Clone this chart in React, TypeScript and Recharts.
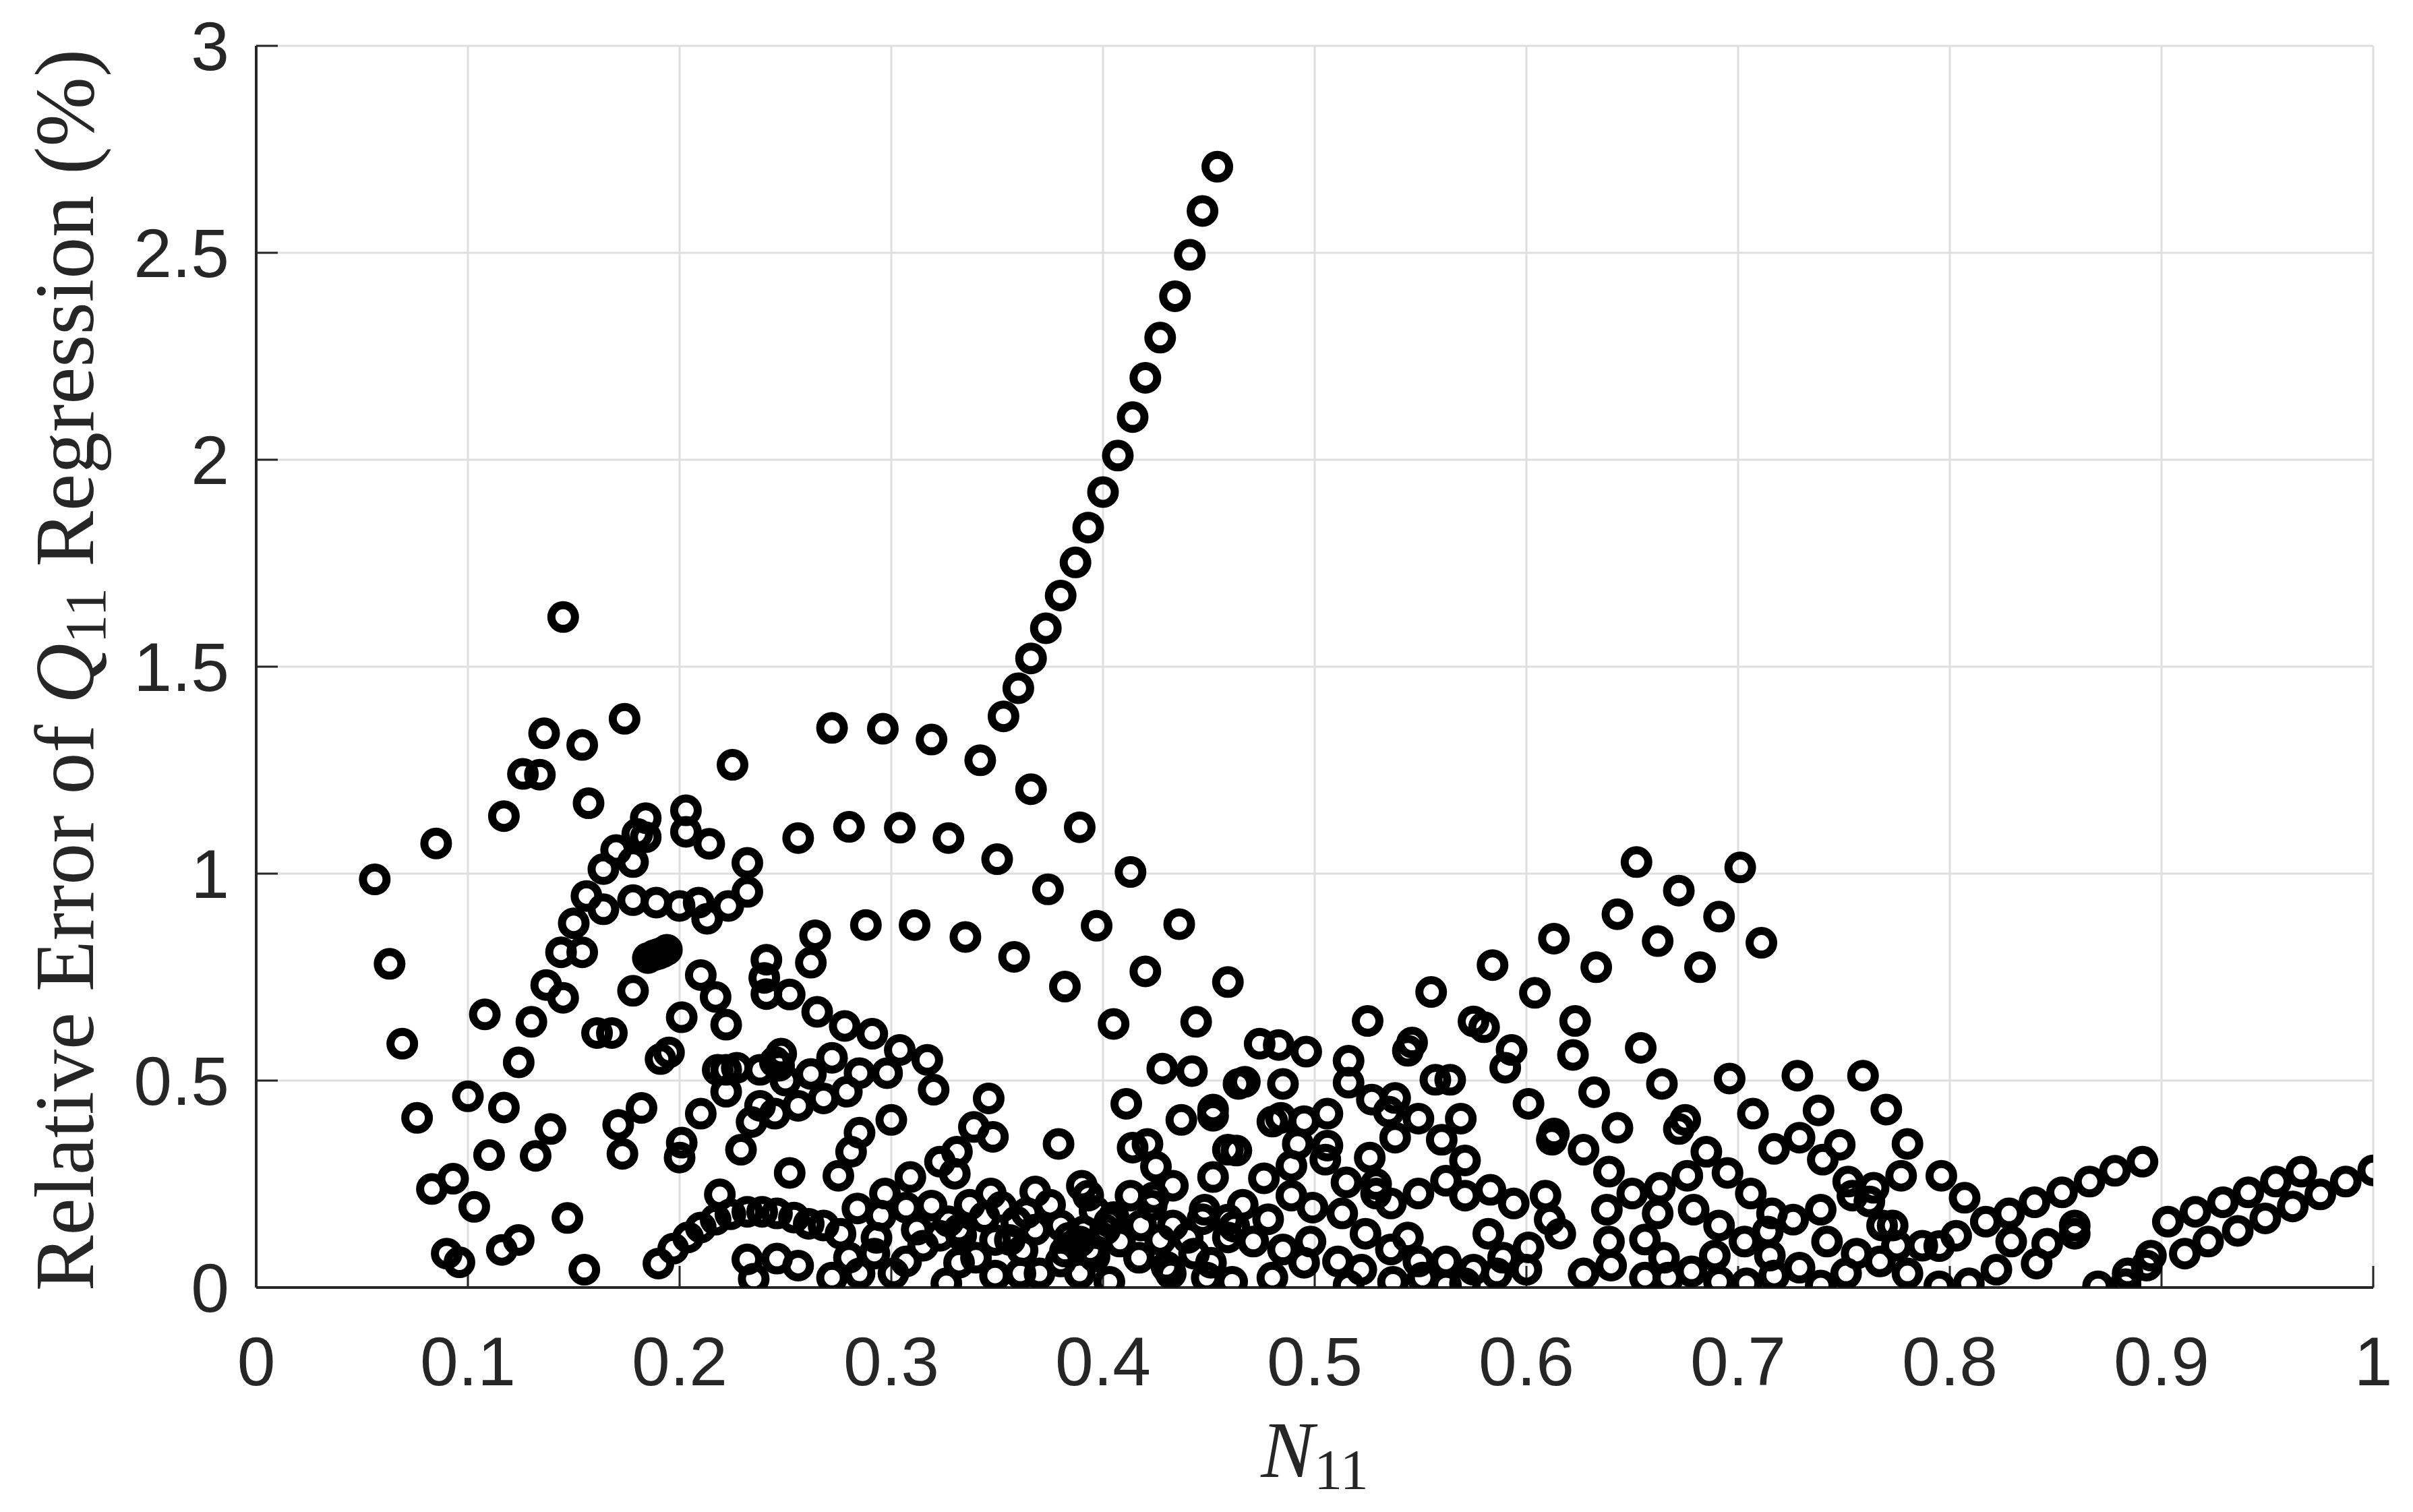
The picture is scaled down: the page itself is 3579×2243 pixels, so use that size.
import React from 'react'
import { ScatterChart, Scatter, XAxis, YAxis, CartesianGrid } from 'recharts'

// axis ticks
const xTicks = [0, 0.1, 0.2, 0.3, 0.4, 0.5, 0.6, 0.7, 0.8, 0.9, 1]
const yTicks = [0, 0.5, 1, 1.5, 2, 2.5, 3]

// [N11, relative error %], grouped by N11 range
const leftCloud: [number, number][] = [
  [0.056, 0.986], [0.063, 0.782], [0.069, 0.589], [0.076, 0.41], [0.083, 0.238], [0.09, 0.082],
  [0.085, 1.073], [0.093, 0.263], [0.096, 0.061], [0.1, 0.462], [0.103, 0.195], [0.108, 0.66],
  [0.11, 0.32], [0.117, 0.435], [0.116, 0.091], [0.117, 1.139], [0.124, 0.115], [0.124, 0.544],
  [0.126, 1.241], [0.132, 0.318], [0.13, 0.642], [0.134, 1.239], [0.136, 1.339], [0.137, 0.731],
  [0.139, 0.383], [0.144, 0.81], [0.145, 0.7], [0.145, 1.62], [0.147, 0.168], [0.15, 0.88],
  [0.154, 1.311], [0.154, 0.81], [0.155, 0.043], [0.156, 0.946], [0.157, 1.17],
]

const midLeftCloud: [number, number][] = [
  [0.161, 0.615], [0.168, 0.615], [0.164, 1.011], [0.164, 0.914], [0.17, 1.057], [0.171, 0.393],
  [0.173, 0.323], [0.174, 1.374], [0.178, 1.028], [0.178, 0.936], [0.178, 0.717], [0.18, 1.096],
  [0.184, 1.088], [0.182, 0.434], [0.184, 1.134], [0.185, 0.796], [0.189, 0.93], [0.19, 0.806],
  [0.194, 0.816], [0.188, 0.803], [0.192, 0.81], [0.191, 0.552], [0.195, 0.568], [0.19, 0.058],
  [0.197, 0.094], [0.2, 0.922],
  [0.201, 0.653], [0.2, 0.314], [0.201, 0.35], [0.203, 1.153], [0.203, 1.101], [0.204, 0.121],
  [0.209, 0.93], [0.21, 0.755], [0.21, 0.42], [0.21, 0.145], [0.213, 0.891], [0.214, 1.072],
  [0.217, 0.702], [0.218, 0.526], [0.217, 0.164], [0.219, 0.225], [0.222, 0.635], [0.222, 0.526],
  [0.222, 0.473], [0.223, 0.922], [0.224, 0.177], [0.225, 1.263], [0.227, 0.531], [0.229, 0.333],
  [0.232, 1.026], [0.232, 0.956], [0.232, 0.183], [0.232, 0.068], [0.234, 0.4], [0.235, 0.021],
  [0.238, 0.526], [0.238, 0.439], [0.239, 0.183], [0.24, 0.748], [0.241, 0.792], [0.241, 0.709],
  [0.245, 0.42], [0.246, 0.179], [0.246, 0.07], [0.245, 0.545], [0.247, 0.536], [0.248, 0.565],
  [0.25, 0.5], [0.252, 0.708], [0.252, 0.277], [0.254, 0.169], [0.256, 1.086], [0.256, 0.439],
  [0.256, 0.053], [0.262, 0.785], [0.261, 0.154], [0.262, 0.516], [0.264, 0.851], [0.265, 0.666],
  [0.268, 0.457], [0.268, 0.15], [0.272, 1.352], [0.272, 0.555], [0.272, 0.024], [0.275, 0.27],
  [0.276, 0.13], [0.278, 0.632], [0.279, 0.473], [0.28, 1.113], [0.28, 0.072], [0.281, 0.328],
  [0.284, 0.191], [0.285, 0.374], [0.285, 0.518], [0.285, 0.034], [0.288, 0.876], [0.291, 0.613],
  [0.292, 0.082], [0.293, 0.12], [0.296, 1.35], [0.295, 0.174], [0.297, 0.227], [0.298, 0.518],
  [0.3, 0.405], [0.301, 0.034], [0.304, 1.111], [0.304, 0.574], [0.307, 0.063], [0.309, 0.267],
  [0.311, 0.876],
]

const risingBranch: [number, number][] = [
  [0.353, 1.38], [0.36, 1.448], [0.366, 1.52], [0.373, 1.593], [0.38, 1.672], [0.387, 1.752],
  [0.393, 1.836], [0.4, 1.922], [0.407, 2.01], [0.414, 2.103], [0.42, 2.198], [0.427, 2.295],
  [0.434, 2.395], [0.441, 2.495], [0.447, 2.601], [0.454, 2.708],
]

const midCloud: [number, number][] = [
  [0.319, 1.324], [0.342, 1.274], [0.366, 1.204], [0.389, 1.112], [0.327, 1.086], [0.35, 1.035],
  [0.374, 0.962], [0.413, 1.004], [0.397, 0.874], [0.436, 0.878], [0.335, 0.847], [0.358, 0.799],
  [0.382, 0.727], [0.42, 0.764], [0.459, 0.738], [0.405, 0.637], [0.444, 0.642], [0.317, 0.55],
  [0.32, 0.478], [0.346, 0.457], [0.428, 0.529], [0.442, 0.523], [0.464, 0.492], [0.411, 0.444],
  [0.437, 0.405], [0.452, 0.43], [0.452, 0.415], [0.339, 0.388], [0.348, 0.364], [0.379, 0.347],
  [0.414, 0.338], [0.421, 0.347], [0.425, 0.292], [0.459, 0.333], [0.452, 0.267], [0.331, 0.328],
  [0.323, 0.304], [0.33, 0.275], [0.347, 0.227], [0.368, 0.232], [0.39, 0.246], [0.393, 0.222],
  [0.413, 0.222], [0.423, 0.198], [0.433, 0.246], [0.448, 0.188], [0.459, 0.164], [0.433, 0.15],
  [0.459, 0.121], [0.307, 0.193], [0.319, 0.198], [0.312, 0.14], [0.323, 0.125], [0.332, 0.14],
  [0.359, 0.159], [0.368, 0.14], [0.38, 0.15], [0.389, 0.111], [0.401, 0.14], [0.408, 0.111],
  [0.315, 0.101], [0.34, 0.072], [0.349, 0.029], [0.361, 0.034], [0.37, 0.034], [0.326, 0.01],
  [0.38, 0.063], [0.389, 0.034], [0.403, 0.014], [0.417, 0.072], [0.432, 0.034], [0.443, 0.082],
  [0.449, 0.024], [0.461, 0.014], [0.327, 0.16], [0.337, 0.2], [0.344, 0.17], [0.352, 0.195],
  [0.356, 0.115], [0.364, 0.18], [0.375, 0.2], [0.384, 0.12], [0.396, 0.185], [0.405, 0.17],
  [0.418, 0.15], [0.427, 0.115], [0.44, 0.12], [0.451, 0.06], [0.396, 0.075], [0.362, 0.09],
  [0.332, 0.06], [0.447, 0.165], [0.43, 0.05], [0.382, 0.087], [0.394, 0.09], [0.333, 0.126],
  [0.349, 0.115], [0.391, 0.136], [0.403, 0.158], [0.424, 0.218],
]

const centreCloud: [number, number][] = [
  [0.525, 0.644], [0.555, 0.714], [0.584, 0.779], [0.613, 0.843], [0.604, 0.712], [0.575, 0.643],
  [0.58, 0.629], [0.546, 0.592], [0.544, 0.572], [0.593, 0.574], [0.59, 0.531], [0.474, 0.589],
  [0.483, 0.586], [0.496, 0.57], [0.516, 0.548], [0.467, 0.497], [0.485, 0.492], [0.516, 0.495],
  [0.557, 0.502], [0.564, 0.502], [0.601, 0.444], [0.527, 0.454], [0.538, 0.458], [0.535, 0.425],
  [0.549, 0.408], [0.569, 0.408], [0.613, 0.372], [0.612, 0.357], [0.48, 0.401], [0.484, 0.41],
  [0.495, 0.402], [0.506, 0.42], [0.492, 0.347], [0.506, 0.343], [0.505, 0.309], [0.538, 0.362],
  [0.56, 0.357], [0.526, 0.314], [0.489, 0.294], [0.476, 0.264], [0.571, 0.307], [0.515, 0.254],
  [0.562, 0.258], [0.571, 0.222], [0.583, 0.236], [0.489, 0.222], [0.499, 0.193], [0.513, 0.179],
  [0.529, 0.227], [0.536, 0.203], [0.549, 0.227], [0.594, 0.203], [0.609, 0.222], [0.611, 0.164],
  [0.471, 0.111], [0.485, 0.092], [0.498, 0.111], [0.524, 0.13], [0.544, 0.121], [0.582, 0.13],
  [0.601, 0.097], [0.616, 0.13], [0.511, 0.063], [0.522, 0.043], [0.536, 0.092], [0.549, 0.063],
  [0.562, 0.063], [0.575, 0.043], [0.589, 0.072], [0.6, 0.043], [0.48, 0.024], [0.516, 0.005],
  [0.537, 0.014], [0.551, 0.024], [0.562, 0.005], [0.571, 0.01], [0.586, 0.034], [0.466, 0.2],
  [0.478, 0.165], [0.495, 0.06], [0.463, 0.331], [0.462, 0.147], [0.529, 0.25],
]

const rightCloud: [number, number][] = [
  [0.652, 1.028], [0.701, 1.015], [0.672, 0.959], [0.643, 0.902], [0.691, 0.896], [0.662, 0.837],
  [0.711, 0.833], [0.633, 0.774], [0.682, 0.774], [0.623, 0.644], [0.622, 0.562], [0.654, 0.579],
  [0.696, 0.505], [0.728, 0.512], [0.759, 0.512], [0.632, 0.472], [0.664, 0.492], [0.675, 0.405],
  [0.672, 0.383], [0.707, 0.42], [0.738, 0.428], [0.77, 0.43], [0.643, 0.386], [0.627, 0.333],
  [0.685, 0.328], [0.717, 0.335], [0.729, 0.362], [0.748, 0.345], [0.74, 0.309], [0.639, 0.28],
  [0.663, 0.241], [0.676, 0.27], [0.695, 0.277], [0.706, 0.227], [0.752, 0.256], [0.764, 0.241],
  [0.65, 0.227], [0.638, 0.188], [0.662, 0.179], [0.679, 0.188], [0.691, 0.15], [0.716, 0.179],
  [0.726, 0.164], [0.739, 0.188], [0.754, 0.222], [0.762, 0.208], [0.703, 0.111], [0.714, 0.135],
  [0.742, 0.111], [0.756, 0.082], [0.768, 0.15], [0.639, 0.111], [0.656, 0.116], [0.627, 0.034],
  [0.64, 0.053], [0.656, 0.024], [0.665, 0.072], [0.667, 0.024], [0.678, 0.039], [0.689, 0.077],
  [0.691, 0.014], [0.704, 0.01], [0.715, 0.077], [0.717, 0.029], [0.729, 0.048], [0.739, 0.005],
  [0.751, 0.034], [0.767, 0.063],
]

const tailCloud: [number, number][] = [
  [0.78, 0.347], [0.777, 0.27], [0.796, 0.27], [0.807, 0.217], [0.773, 0.15], [0.775, 0.101],
  [0.787, 0.101], [0.795, 0.1], [0.803, 0.125], [0.817, 0.159], [0.828, 0.179], [0.84, 0.206],
  [0.853, 0.23], [0.866, 0.256], [0.878, 0.282], [0.891, 0.304], [0.829, 0.111], [0.846, 0.106],
  [0.859, 0.15], [0.859, 0.13], [0.841, 0.058], [0.822, 0.043], [0.809, 0.01], [0.795, 0.003],
  [0.78, 0.034], [0.87, 0.003], [0.883, 0.008], [0.884, 0.034], [0.893, 0.053], [0.895, 0.077],
  [0.903, 0.159], [0.916, 0.183], [0.911, 0.082], [0.922, 0.111], [0.929, 0.206], [0.941, 0.23],
  [0.954, 0.256], [0.966, 0.28], [0.975, 0.225], [0.987, 0.256], [1.0, 0.283], [0.936, 0.137],
  [0.949, 0.167], [0.962, 0.196],
]

const points = [
  ...leftCloud, ...midLeftCloud, ...risingBranch, ...midCloud,
  ...centreCloud, ...rightCloud, ...tailCloud,
].map(([n, e]) => ({ n, e }))

const AXIS = '#262626'
const SANS = "'Liberation Sans', Arial, Helvetica, sans-serif"
const SERIF = "'Liberation Serif', 'Times New Roman', serif"

// open circle marker like MATLAB 'ko'
const Ring = (props: any) => {
  const { cx, cy } = props
  if (cx == null || cy == null) return null
  return <circle cx={cx} cy={cy} r={17.5} fill="none" stroke="#000" strokeWidth={12} />
}

const YTitle = (props: any) => {
  const vb = props.viewBox || {}
  const x = (vb.x ?? 72) + 58
  const y = (vb.y ?? 60) + (vb.height ?? 1842) / 2 + 5
  return (
    <text x={x} y={y} transform={`rotate(-90 ${x} ${y})`} textAnchor="middle"
      fontFamily={SERIF} fontSize={124} fill={AXIS}>
      Relative Error of <tspan fontStyle="italic">Q</tspan>
      <tspan fontSize={86} dy={18}>11</tspan>
      <tspan dy={-18}> Regression (%)</tspan>
    </text>
  )
}

const XTitle = (props: any) => {
  const vb = props.viewBox || {}
  const x = (vb.x ?? 372) + (vb.width ?? 3140) / 2
  const y = (vb.y ?? 1902) + 281
  return (
    <text x={x} y={y} textAnchor="middle" fontFamily={SERIF} fontSize={118} fill={AXIS}>
      <tspan fontStyle="italic">N</tspan>
      <tspan fontSize={84} dy={18}>11</tspan>
    </text>
  )
}

const fmt = (v: number) => String(v)

export default function App() {
  return (
    <div style={{ width: 3563, height: 2227, background: '#fff' }}>
      <ScatterChart width={3563} height={2227} margin={{ top: 60, right: 51, bottom: 125, left: 72 }}>
        <CartesianGrid stroke="#dfdfdf" strokeWidth={3} />
        <XAxis
          type="number"
          dataKey="n"
          domain={[0, 1]}
          ticks={xTicks}
          interval={0}
          allowDataOverflow
          tickFormatter={fmt}
          height={200}
          axisLine={{ stroke: AXIS, strokeWidth: 4 }}
          tickLine={{ stroke: AXIS, strokeWidth: 3 }}
          tickSize={-32}
          tickMargin={105}
          tick={{ fill: AXIS, fontSize: 102, fontFamily: SANS }}
          label={<XTitle />}
        />
        <YAxis
          type="number"
          dataKey="e"
          domain={[0, 3]}
          ticks={yTicks}
          interval={0}
          allowDataOverflow
          tickFormatter={fmt}
          width={300}
          axisLine={{ stroke: AXIS, strokeWidth: 4 }}
          tickLine={{ stroke: AXIS, strokeWidth: 3 }}
          tickSize={-32}
          tickMargin={72}
          tick={{ fill: AXIS, fontSize: 102, fontFamily: SANS }}
          label={<YTitle />}
        />
        <XAxis
          xAxisId="top"
          orientation="top"
          type="number"
          domain={[0, 1]}
          ticks={xTicks}
          interval={0}
          allowDataOverflow
          height={0}
          axisLine={{ stroke: AXIS, strokeWidth: 4 }}
          tickLine={{ stroke: AXIS, strokeWidth: 3 }}
          tickSize={-32}
          tick={false}
        />
        <YAxis
          yAxisId="right"
          orientation="right"
          type="number"
          domain={[0, 3]}
          ticks={yTicks}
          interval={0}
          allowDataOverflow
          width={0}
          axisLine={{ stroke: AXIS, strokeWidth: 4 }}
          tickLine={{ stroke: AXIS, strokeWidth: 3 }}
          tickSize={-32}
          tick={false}
        />
        <Scatter data={points} isAnimationActive={false} shape={(p: any) => <Ring {...p} />} />
      </ScatterChart>
    </div>
  )
}
